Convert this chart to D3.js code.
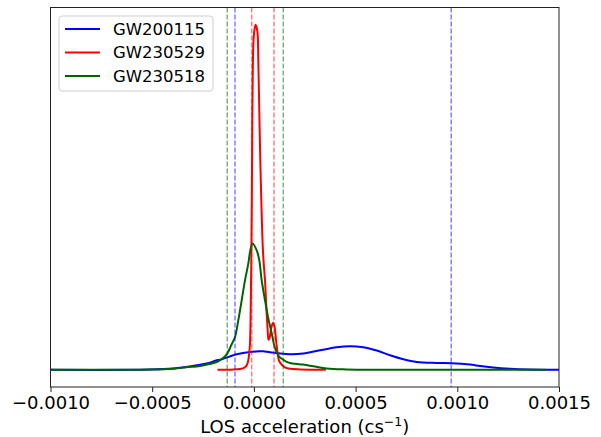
<!DOCTYPE html>
<html>
<head>
<meta charset="utf-8">
<script src="https://cdn.jsdelivr.net/npm/d3@7"></script>
<style>
  body { margin: 0; background: #fff; }
  svg { font-family: "DejaVu Sans", sans-serif; }
</style>
</head>
<body>
<div id="chart"></div>
<script>
// LOS acceleration samples (cs^-1) and relative density
const seriesNames = ["GW200115", "GW230529", "GW230518"];
const seriesColours = ["#0000ff", "#ff0000", "#006400"];

const blueX = [-0.0011, -0.000511, -0.000396, -0.000334, -0.000232, -0.000183, -0.000167, -0.000101, -0.0000846,
  -0.0000192, 0.00003, 0.0000462, 0.000079, 0.000112, 0.000177, 0.000243, 0.000325, 0.000407, 0.000472, 0.000538,
  0.000604, 0.000669, 0.000735, 0.0008, 0.000899, 0.000972, 0.001062, 0.001112, 0.001177, 0.001259,
  0.001357, 0.0016];
const blueY = [0, 0.06, 0.35, 0.81, 1.79, 2.75, 2.89, 4.2, 4.49,
  5.15, 5.35, 5.38, 5.05, 4.86, 4.49, 4.69, 5.64, 6.51, 6.8, 6.51,
  5.56, 4.2, 3.04, 2.26, 1.97, 1.88, 1.5, 1.1, 0.64, 0.29,
  0.09, 0];

const redX = [-0.000179, -0.0000683, -0.0000438, -0.0000339, -0.0000275, -0.0000226, -0.0000192, -0.0000157,
  -0.0000128, -0.0000103, -0.0000084, -0.0000059, -0.0000005, 0.0000079, 0.0000167, 0.0000216, 0.0000265,
  0.0000315, 0.0000364, 0.0000413, 0.0000472, 0.0000546, 0.0000619, 0.0000678, 0.0000718, 0.0000767, 0.0000841,
  0.0000939, 0.000101, 0.000109, 0.000116, 0.000123, 0.000137, 0.000153, 0.000177, 0.000227, 0.000354];
const redY = [0, 0.2, 0.72, 1.45, 2.75, 5.06, 7.67, 17.2,
  31.7, 49.06, 66.4, 84.66, 96.8, 100, 98.26, 89.6, 75.1,
  60.6, 49.06, 38.93, 31.7, 25.9, 17.2, 11.43, 8.68, 9.12, 11.72,
  13.6, 12.59, 8.54, 5.06, 2.75, 1.45, 0.72, 0.29, 0.09, 0];

const greenX = [-0.00115, -0.000511, -0.000396, -0.000334, -0.000265, -0.000232, -0.000183, -0.000167, -0.000147,
  -0.000128, -0.000113, -0.0000929, -0.0000767, -0.00006, -0.0000438, -0.0000275, -0.0000177, -0.0000069,
  0.0000138, 0.0000265, 0.0000383, 0.0000546, 0.0000708, 0.0000875, 0.000104, 0.000123, 0.000145, 0.000161,
  0.000177, 0.000243, 0.000292, 0.000358, 0.000456, 0.00062, 0.001435];
const greenY = [0, 0.06, 0.3, 0.7, 1.1, 1.5, 2.26, 2.75, 3.6,
  5.0, 6.9, 9.49, 14.33, 20.12, 25.9, 30.74, 34.6, 36.56,
  34.6, 31.7, 25.9, 20.12, 14.9, 10.56, 6.22, 3.91, 2.89, 2.26,
  1.97, 1.5, 1.01, 0.35, 0.09, 0, 0];

// credible-interval markers for each event
const blueBounds = [-0.0000929, 0.00097];
const redBounds = [-0.0000108, 0.0000988];
const greenBounds = [-0.000131, 0.0001445];

const xTicks = [-0.001, -0.0005, 0, 0.0005, 0.001, 0.0015];

const width = 601, height = 437;
const margin = {top: 7.5, right: 42, bottom: 50, left: 50.5};
const plotW = width - margin.left - margin.right;
const plotH = height - margin.top - margin.bottom;

const svg = d3.select("#chart").append("svg")
  .attr("width", width)
  .attr("height", height);

const x = d3.scaleLinear().domain([-0.001, 0.0015]).range([margin.left, margin.left + plotW]);
const yMax = d3.max(redY);
const y = d3.scaleLinear().domain([-0.05 * yMax, 1.05 * yMax]).range([margin.top + plotH, margin.top]);

svg.append("clipPath").attr("id", "plotclip")
  .append("rect")
  .attr("x", margin.left).attr("y", margin.top)
  .attr("width", plotW).attr("height", plotH);

const zip = (xs, ys) => xs.map((v, i) => [v, ys[i]]);
const series = [zip(blueX, blueY), zip(redX, redY), zip(greenX, greenY)];
const bounds = [blueBounds, redBounds, greenBounds];

const line = d3.line()
  .x(d => x(d[0]))
  .y(d => y(d[1]))
  .curve(d3.curveCatmullRom.alpha(0.5));

const plot = svg.append("g").attr("clip-path", "url(#plotclip)");

series.forEach((s, i) => {
  plot.append("path")
    .datum(s)
    .attr("fill", "none")
    .attr("stroke", seriesColours[i])
    .attr("stroke-width", 2)
    .attr("stroke-linejoin", "round")
    .attr("d", line);
});

// dashed interval lines
bounds.forEach((b, i) => {
  plot.selectAll(".bound" + i)
    .data(b)
    .enter().append("line")
    .attr("x1", d => x(d)).attr("x2", d => x(d))
    .attr("y1", margin.top).attr("y2", margin.top + plotH)
    .attr("stroke", seriesColours[i])
    .attr("stroke-opacity", 0.5)
    .attr("stroke-width", 1.5)
    .attr("stroke-dasharray", "5,2");
});

// frame
svg.append("rect")
  .attr("x", margin.left).attr("y", margin.top)
  .attr("width", plotW).attr("height", plotH)
  .attr("fill", "none")
  .attr("stroke", "#222")
  .attr("stroke-width", 1);

// x axis
const xAxis = svg.append("g")
  .attr("transform", "translate(0," + (margin.top + plotH) + ")")
  .call(d3.axisBottom(x).tickValues(xTicks).tickFormat(d3.format(".4f")).tickSize(5).tickSizeOuter(0));
xAxis.select(".domain").remove();
xAxis.selectAll(".tick line").attr("stroke", "#222");
xAxis.selectAll(".tick text")
  .attr("font-size", 18)
  .attr("font-family", "DejaVu Sans")
  .attr("fill", "#000")
  .attr("y", 9);

const xl = svg.append("text")
  .attr("x", margin.left + plotW / 2)
  .attr("y", 433)
  .attr("text-anchor", "middle")
  .attr("font-size", 18)
  .attr("fill", "#000");
xl.append("tspan").text("LOS acceleration (cs");
xl.append("tspan").attr("font-size", 12.5).attr("dy", -7).text("\u22121");
xl.append("tspan").attr("dy", 7).text(")");

// legend
const legend = svg.append("g").attr("transform", "translate(59,16)");
legend.append("rect")
  .attr("width", 154).attr("height", 75)
  .attr("rx", 3)
  .attr("fill", "#fff").attr("fill-opacity", 0.8)
  .attr("stroke", "#d0d0d0").attr("stroke-width", 1);
seriesNames.forEach((name, i) => {
  const g = legend.append("g").attr("transform", "translate(0," + (13 + i * 23.5) + ")");
  g.append("line")
    .attr("x1", 6).attr("x2", 41)
    .attr("stroke", seriesColours[i]).attr("stroke-width", 2);
  g.append("text")
    .attr("x", 54).attr("dy", "0.35em")
    .attr("font-size", 16.5)
    .attr("fill", "#000")
    .text(name);
});
</script>
</body>
</html>
